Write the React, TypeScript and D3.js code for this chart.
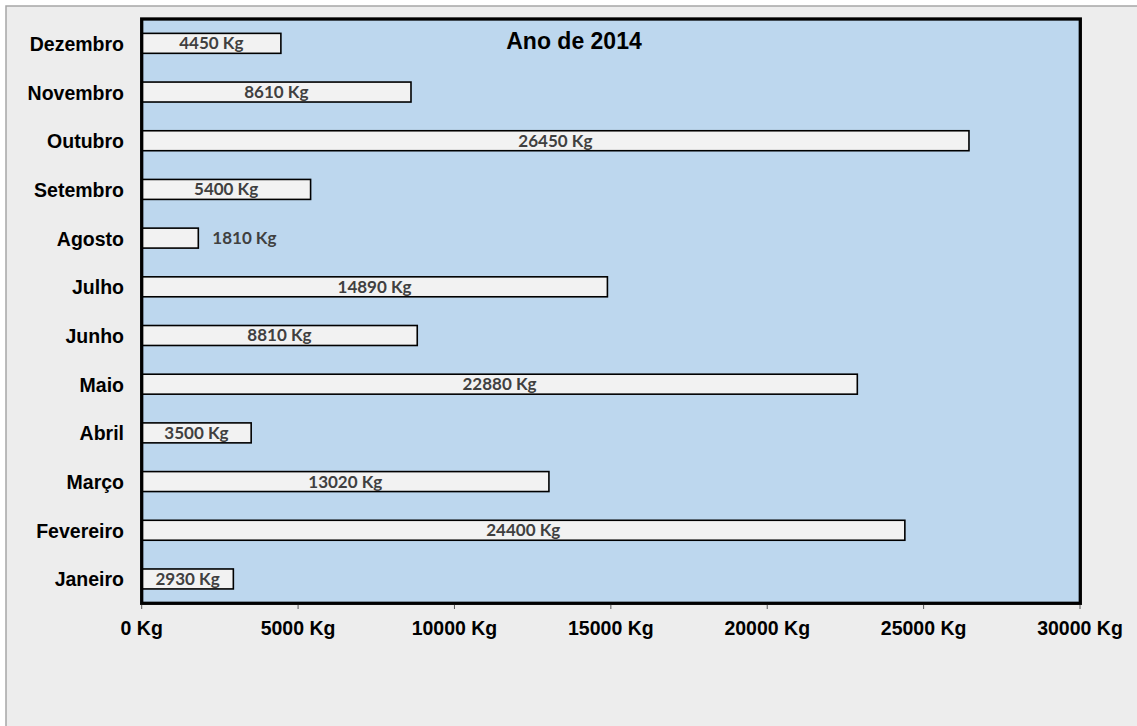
import React from "react";
import * as d3 from "d3";

const months: string[] = [
  "Dezembro", "Novembro", "Outubro", "Setembro", "Agosto", "Julho",
  "Junho", "Maio", "Abril", "Março", "Fevereiro", "Janeiro",
];
const values: number[] = [4450, 8610, 26450, 5400, 1810, 14890, 8810, 22880, 3500, 13020, 24400, 2930];
const xTicks: number[] = [0, 5000, 10000, 15000, 20000, 25000, 30000];
const title = "Ano de 2014";

const W = 1137;
const H = 726;

export default function App() {
  const x = d3.scaleLinear().domain([0, 30000]).range([141.7, 1080]);
  const y = d3
    .scaleBand<string>()
    .domain(months)
    .range([19, 603.3])
    .paddingInner(0.59)
    .paddingOuter(0.295);
  const plotL = 141.7, plotR = 1080.3, plotT = 19, plotB = 603.3;

  return (
    <svg
      width={W}
      height={H}
      style={{ position: "absolute", left: 0, top: 0, background: "#ffffff" }}
    >
      <rect x={6} y={6} width={W} height={H} fill="#ededed" stroke="#a6a6a6" strokeWidth={1.5} />
      <rect x={plotL} y={plotT} width={plotR - plotL} height={plotB - plotT} fill="#bdd7ee" />
      {months.map((m, i) => {
        const v = values[i];
        const y0 = y(m)!;
        const bw = y.bandwidth();
        const x1 = x(v);
        const cy = y0 + bw / 2;
        const outside = x1 - x(0) < 70;
        return (
          <g key={m}>
            <rect x={x(0)} y={y0} width={x1 - x(0)} height={bw} fill="#f2f2f2" stroke="#000" strokeWidth={1.6} />
            <text
              x={outside ? x1 + 14 : (x(0) + x1) / 2}
              y={cy + 6}
              textAnchor={outside ? "start" : "middle"}
              fontFamily="Lato, 'Open Sans', sans-serif"
              fontWeight={700}
              fontSize={17}
              fill="#404040"
            >
              {`${v} Kg`}
            </text>
            <text
              x={124}
              y={cy + 7.5}
              textAnchor="end"
              fontFamily="'Liberation Sans', Arial, sans-serif"
              fontWeight={700}
              fontSize={19.5}
              fill="#000"
            >
              {m}
            </text>
          </g>
        );
      })}
      <rect x={plotL} y={plotT} width={plotR - plotL} height={plotB - plotT} fill="none" stroke="#000" strokeWidth={3.3} />
      {xTicks.map((t) => (
        <g key={t}>
          <line x1={x(t)} x2={x(t)} y1={plotB + 1.6} y2={609} stroke="#595959" strokeWidth={1} />
          <text
            x={x(t)}
            y={635}
            textAnchor="middle"
            fontFamily="'Liberation Sans', Arial, sans-serif"
            fontWeight={700}
            fontSize={19.5}
            fill="#000"
          >
            {`${t} Kg`}
          </text>
        </g>
      ))}
      <text
        x={574}
        y={49}
        textAnchor="middle"
        fontFamily="'Liberation Sans', Arial, sans-serif"
        fontWeight={700}
        fontSize={23}
        fill="#000"
      >
        {title}
      </text>
    </svg>
  );
}
